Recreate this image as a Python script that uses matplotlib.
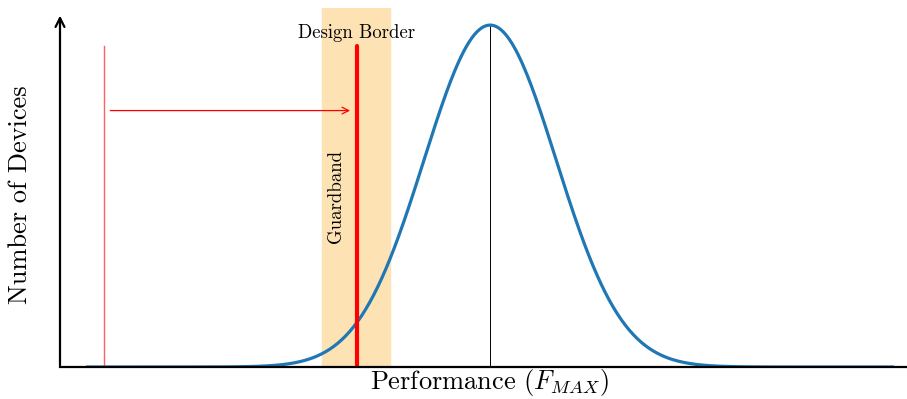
import numpy as np
import matplotlib.pyplot as plt

# data (units of sigma, peak at 0)
x_min, x_max = -6.1, 6.1
mu, sigma = 0.0, 1.0
guard_lo, guard_hi = -2.55, -1.52
design_border = -2.02
left_limit = -5.86
arrow_y = 0.75
marker_top = 0.94

plt.rcParams['font.family'] = 'cmr10'
plt.rcParams['mathtext.fontset'] = 'cm'

fig = plt.figure(figsize=(9.07, 3.99), dpi=100)
ax = fig.add_axes([60 / 907, 1 - 367 / 399, 847 / 907, 359 / 399])

x = np.linspace(x_min, x_max, 600)
y = np.exp(-(x - mu) ** 2 / (2 * sigma ** 2))

ax.axvspan(guard_lo, guard_hi, color='#fde3b4', zorder=0)
ax.plot(x, y, color='#1f77b4', lw=2.3, zorder=3)
ax.plot([mu, mu], [0, 1], color='black', lw=0.7, zorder=2)
ax.plot([design_border, design_border], [0, marker_top], color='red', lw=3,
        solid_capstyle='round', zorder=4)
ax.plot([left_limit, left_limit], [0, marker_top], color='#ff6060', lw=1, zorder=2)
ax.annotate('', xy=(design_border - 0.06, arrow_y), xytext=(left_limit + 0.06, arrow_y),
            arrowprops=dict(arrowstyle='->', color='red', lw=0.9, mutation_scale=12))

ax.text(design_border, 0.977, 'Design Border', ha='center', va='center', fontsize=13.5)
ax.text(-2.34, 0.50, 'Guardband', rotation=90, ha='center', va='center', fontsize=13.5)

# axes with arrow on y
ax.set_xlim(-6.52, 6.32)
ax.set_ylim(0, 1.05)
ax.plot([-6.52, 6.32], [0, 0], color='black', lw=1.6, zorder=5, clip_on=False)
ax.annotate('', xy=(-6.52, 1.036), xytext=(-6.52, -0.003),
            arrowprops=dict(arrowstyle='->', color='black', lw=1.6, mutation_scale=16))
for s in ax.spines.values():
    s.set_visible(False)
ax.set_xticks([])
ax.set_yticks([])

fig.text(20 / 907, 1 - 195 / 399, 'Number of Devices', rotation=90, ha='center', va='center', fontsize=19)
fig.text(490 / 907, 1 - 383 / 399, r'Performance ($F_{MAX}$)', ha='center', va='center', fontsize=19)

fig.savefig('out.png', dpi=100)
